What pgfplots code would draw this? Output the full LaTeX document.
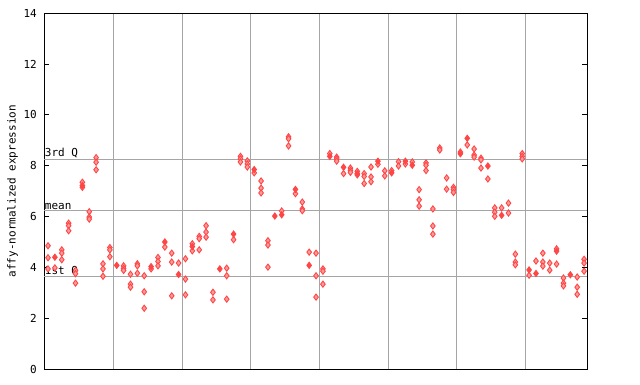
\documentclass[border=0pt]{standalone}
\usepackage{pgfplots}
\pgfplotsset{compat=1.18}
\usepackage{fontspec}
\setmonofont{DejaVu Sans Mono}
\definecolor{ptred}{RGB}{255,70,70}
\definecolor{ptpink}{RGB}{255,155,155}
\definecolor{gridgray}{RGB}{165,165,165}
\begin{document}
\begin{tikzpicture}[x=1bp,y=1bp]
\useasboundingbox (0,0) rectangle (640,384);
\begin{axis}[
  at={(44.3bp,15bp)}, anchor=south west,
  scale only axis, width=543bp, height=355.7bp,
  xmin=-0.54, xmax=78.47, ymin=0, ymax=14,
  axis line style={black, line width=1bp},
  xtick={9.5,19.5,29.5,39.5,49.5,59.5,69.5},
  xticklabels={},
  x tick style={draw=none},
  xmajorgrids,
  major grid style={gridgray, line width=1bp},
  ytick={0,2,4,6,8,10,12,14},
  y tick style={black, line width=1bp},
  tick align=inside,
  major tick length=5bp,
  ytick pos=both,
  yticklabel pos=left,
  /pgf/number format/assume math mode=true,
  yticklabel style={font=\ttfamily\fontsize{11bp}{12bp}\selectfont, xshift=-4bp},
  every axis y label/.style={at={(axis description cs:-0.0586,0.5)}, rotate=90, anchor=center, font=\ttfamily\fontsize{11bp}{12bp}\selectfont},
  ylabel={affy-normalized expression},
  clip=false,
]
% quartile lines
\addplot[gridgray, line width=1bp, no marks] coordinates {(-0.54,8.24) (78.47,8.24)};
\addplot[gridgray, line width=1bp, no marks] coordinates {(-0.54,6.23) (78.47,6.23)};
\addplot[gridgray, line width=1bp, no marks] coordinates {(-0.54,3.63) (78.47,3.63)};
\node[anchor=south west, inner sep=0pt, xshift=0.5bp, yshift=1bp, font=\ttfamily\fontsize{11bp}{12bp}\selectfont] at (axis cs:-0.54,8.24) {3rd Q};
\node[anchor=south west, inner sep=0pt, xshift=0.5bp, yshift=1bp, font=\ttfamily\fontsize{11bp}{12bp}\selectfont] at (axis cs:-0.54,6.23) {mean};
\node[anchor=south west, inner sep=0pt, xshift=0.5bp, yshift=1bp, font=\ttfamily\fontsize{11bp}{12bp}\selectfont] at (axis cs:-0.54,3.63) {1st Q};
% hollow points
\addplot[only marks, mark=diamond*, mark size=3.1bp, mark options={draw=ptred, fill=ptpink, line width=0.9bp}] coordinates {
(0,4.85) (0,4.38) (0,3.94)
(1,3.98)
(2,4.69) (2,4.56) (2,4.30)
(3,5.74) (3,5.64) (3,5.44)
(4,3.88) (4,3.75) (4,3.38)
(5,7.35) (5,7.15)
(6,6.19) (6,5.98) (6,5.90)
(7,8.32) (7,8.14) (7,7.84)
(8,4.14) (8,3.94) (8,3.65)
(9,4.78) (9,4.69) (9,4.42)
(11,4.06) (11,3.96) (11,3.88)
(12,3.73) (12,3.34) (12,3.22)
(13,4.14) (13,4.06) (13,3.77)
(14,3.67) (14,3.04) (14,2.39)
(15,3.94)
(16,4.39) (16,4.23) (16,4.06)
(17,4.80)
(18,4.56) (18,4.21) (18,2.88)
(19,4.17)
(20,4.34) (20,3.54) (20,2.92)
(21,4.93) (21,4.65)
(22,5.22) (22,5.13) (22,4.69)
(23,5.64) (23,5.39) (23,5.19)
(24,3.02) (24,2.72)
(26,3.97) (26,3.67) (26,2.75)
(27,5.09)
(28,8.37) (28,8.27) (28,8.15)
(29,8.19) (29,8.07) (29,7.95)
(30,7.72)
(31,7.40) (31,7.12) (31,6.93)
(32,5.05) (32,4.88) (32,4.01)
(34,6.22)
(35,9.14) (35,9.06) (35,8.78)
(36,6.90)
(37,6.57) (37,6.30) (37,6.23)
(38,4.60)
(39,4.56) (39,3.67) (39,2.83)
(40,3.94) (40,3.85) (40,3.34)
(41,8.48)
(42,8.34) (42,8.27) (42,8.18)
(43,7.69)
(44,7.91) (44,7.82) (44,7.74)
(45,7.78) (45,7.64)
(46,7.69) (46,7.58) (46,7.30)
(47,7.95) (47,7.56) (47,7.37)
(48,8.06)
(49,7.80) (49,7.60)
(50,7.81)
(51,8.16) (51,7.99)
(52,8.07)
(53,8.15)
(54,7.06) (54,6.66) (54,6.41)
(55,8.11) (55,8.02) (55,7.81)
(56,6.30) (56,5.63) (56,5.31)
(57,8.70) (57,8.62)
(58,7.52) (58,7.08)
(59,7.15) (59,7.06) (59,6.95)
(60,8.54)
(61,8.82)
(62,8.66) (62,8.42) (62,8.34)
(63,8.30) (63,8.23) (63,7.91)
(64,7.48)
(65,6.34) (65,6.17) (65,6.01)
(66,6.34)
(67,6.53) (67,6.14)
(68,4.52) (68,4.21) (68,4.10)
(69,8.48) (69,8.37) (69,8.27)
(70,3.69)
(71,4.25)
(72,4.56) (72,4.21) (72,4.05)
(73,4.17) (73,3.89)
(74,4.73) (74,4.13)
(75,3.58) (75,3.38) (75,3.27)
(77,3.62) (77,3.22) (77,2.94)
(78,4.32) (78,4.17) (78,3.85)
};
% filled points
\addplot[only marks, mark=diamond*, mark size=3.1bp, mark options={draw=ptred, fill=ptred, line width=0.9bp}] coordinates {
(1,4.40) (5,7.22)
(10,4.08) (15,4.03) (17,5.00) (19,3.72)
(21,4.82) (25,3.94) (27,5.31)
(30,7.85) (33,6.02) (34,6.07) (36,7.07) (38,4.08)
(41,8.37) (43,7.94) (45,7.69) (48,8.18)
(50,7.72) (52,8.18) (53,8.02)
(60,8.47) (61,9.08) (64,7.99) (66,6.05)
(70,3.90) (71,3.76) (74,4.64) (76,3.71)
};
\end{axis}
\end{tikzpicture}
\end{document}
